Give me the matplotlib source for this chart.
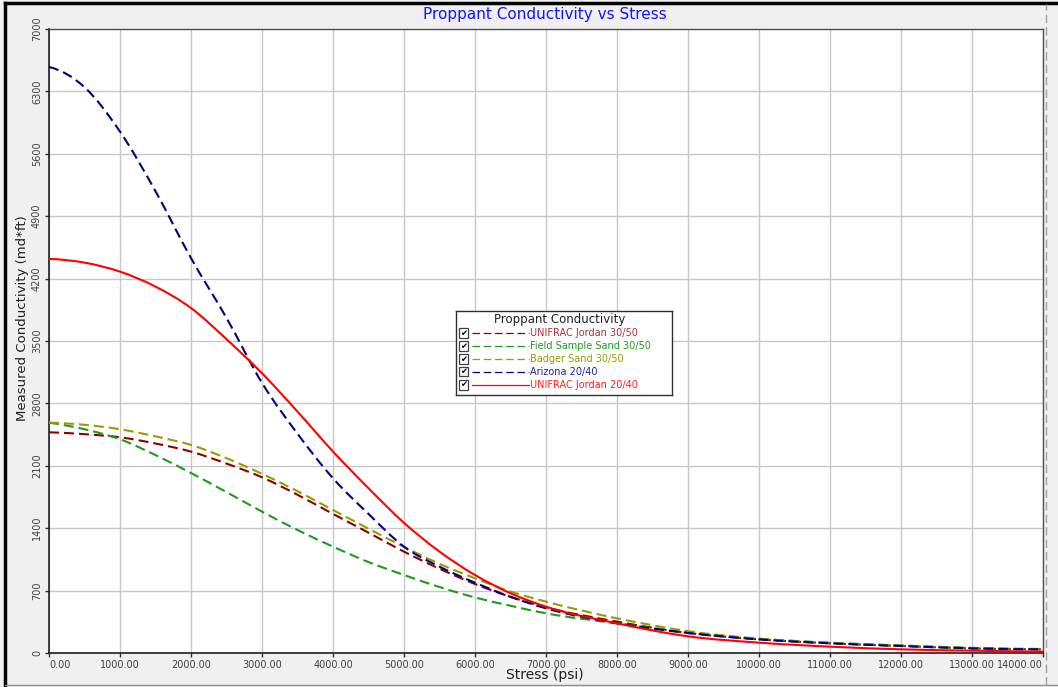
import matplotlib
matplotlib.use("Agg")
import matplotlib.pyplot as plt
import numpy as np
from matplotlib.lines import Line2D
from matplotlib.patches import Rectangle, PathPatch
from matplotlib.path import Path

# ---------------- data ----------------
stress = [0, 500, 1000, 1500, 2000, 2500, 3000, 3500, 4000, 4500, 5000, 5500,
          6000, 6500, 7000, 8000, 9000, 10000, 11000, 12000, 13000, 14000]

unifrac_3050 = [2476, 2455, 2420, 2350, 2259, 2125, 1971, 1775, 1560, 1350, 1137, 945,
                774, 630, 513, 352, 225, 153, 109, 79, 52, 41]
field_3050 = [2584, 2510, 2398, 2220, 2019, 1805, 1586, 1380, 1193, 1020, 875, 740,
              623, 530, 445, 333, 230, 160, 115, 85, 58, 45]
badger_3050 = [2584, 2560, 2510, 2430, 2334, 2185, 2010, 1815, 1604, 1395, 1190, 1000,
               838, 690, 576, 389, 245, 160, 115, 82, 55, 42]
arizona_2040 = [6574, 6347, 5849, 5180, 4430, 3759, 3030, 2460, 1960, 1560, 1193, 968,
                789, 630, 501, 333, 225, 153, 109, 79, 52, 41]
unifrac_2040 = [4421, 4379, 4278, 4110, 3870, 3520, 3138, 2708, 2260, 1848, 1460, 1137,
                875, 670, 520, 333, 187, 116, 71, 41, 26, 15]

series_labels = ["UNIFRAC Jordan 30/50", "Field Sample Sand 30/50", "Badger Sand 30/50",
                 "Arizona 20/40", "UNIFRAC Jordan 20/40"]
series_values = [unifrac_3050, field_3050, badger_3050, arizona_2040, unifrac_2040]

x_ticks = list(range(0, 14001, 1000))
y_ticks = list(range(0, 7001, 700))

title = "Proppant Conductivity vs Stress"
x_label = "Stress (psi)"
y_label = "Measured Conductivity (md*ft)"
legend_title = "Proppant Conductivity"

# ---------------- styles ----------------
colors = ["#8B0000", "#1E9A1E", "#9A9A00", "#000080", "#FF0000"]
text_colors = ["#A83040", "#1E9A1E", "#9A9A00", "#2020A0", "#FF2020"]
dashed = [True, True, True, True, False]


def _end_slope(h0, h1, d0, d1):
    m = ((2 * h0 + h1) * d0 - h0 * d1) / (h0 + h1)
    if np.sign(m) != np.sign(d0):
        m = 0.0
    return m


def smooth_path(xs, ys):
    """Smooth cubic Bezier path through the given points (rendering only)."""
    x = np.asarray(xs, float)
    y = np.asarray(ys, float)
    h = np.diff(x)
    d = np.diff(y) / h
    n = len(x)
    m = np.zeros(n)
    for i in range(1, n - 1):
        m[i] = (h[i] * d[i - 1] + h[i - 1] * d[i]) / (h[i - 1] + h[i])
    m[0] = _end_slope(h[0], h[1], d[0], d[1])
    m[-1] = _end_slope(h[-1], h[-2], d[-1], d[-2])
    verts = [(x[0], y[0])]
    codes = [Path.MOVETO]
    for i in range(n - 1):
        verts += [(x[i] + h[i] / 3, y[i] + m[i] * h[i] / 3),
                  (x[i + 1] - h[i] / 3, y[i + 1] - m[i + 1] * h[i] / 3),
                  (x[i + 1], y[i + 1])]
        codes += [Path.CURVE4] * 3
    return Path(verts, codes)


W, H = 1058, 687
fig = plt.figure(figsize=(W / 100, H / 100), dpi=100)
fig.patch.set_facecolor("#F0F0F0")

L, R, T, B = 49, 1043, 29, 653
ax = fig.add_axes([L / W, 1 - B / H, (R - L) / W, (B - T) / H])
ax.set_facecolor("white")

for vals, c, d in zip(series_values, colors, dashed):
    ls = (0, (4.8, 2.4)) if d else "-"
    patch = PathPatch(smooth_path(stress, vals), fill=False, edgecolor=c, lw=1.5,
                      linestyle=ls, zorder=3, capstyle="butt")
    ax.add_patch(patch)

ax.set_xlim(0, 14000)
ax.set_ylim(0, 7000)
ax.set_xticks(x_ticks)
ax.set_xticklabels([f"{v:.2f}" for v in x_ticks])
ax.set_yticks(y_ticks)
ax.set_yticklabels([str(v) for v in y_ticks])
ax.grid(True, color="#C8C8C8", lw=1.0, zorder=0)
ax.set_axisbelow(True)
ax.tick_params(axis="both", labelsize=7, colors="#303030", length=3, width=1,
               labelcolor="#404040")
ax.tick_params(axis="x", pad=2)
ax.tick_params(axis="y", pad=2)
for lab in ax.get_yticklabels():
    lab.set_rotation(90)
    lab.set_verticalalignment("center")
xl = ax.get_xticklabels()
xl[0].set_horizontalalignment("left")
xl[-1].set_horizontalalignment("right")
for side in ["left", "bottom"]:
    ax.spines[side].set_color("#202020")
    ax.spines[side].set_linewidth(1.2)
for side in ["right", "top"]:
    ax.spines[side].set_color("#505050")
    ax.spines[side].set_linewidth(1.0)

fig.text(545 / W, 1 - 14 / H, title, color="#1515F0", fontsize=11,
         ha="center", va="center")
fig.text(545 / W, 1 - 675 / H, x_label, color="#202020", fontsize=10,
         ha="center", va="center")
fig.text(23 / W, 1 - 318 / H, y_label, color="#202020", fontsize=9.5,
         ha="center", va="center", rotation=90)

# ---------------- legend (custom, checkbox style) ----------------
lx0, ly0, lx1, ly1 = 456, 311, 672, 395
lax = fig.add_axes([lx0 / W, 1 - ly1 / H, (lx1 - lx0) / W, (ly1 - ly0) / H])
lax.set_xlim(lx0, lx1)
lax.set_ylim(ly1, ly0)
lax.set_xticks([])
lax.set_yticks([])
lax.set_facecolor("white")
for s in lax.spines.values():
    s.set_color("#303030")
    s.set_linewidth(1.0)
lax.text(560, 320, legend_title, fontsize=8.5, color="#202020", ha="center", va="center")
rows = [333.3, 346, 359.3, 371.7, 385]
for yy, lab, c, tc, d in zip(rows, series_labels, colors, text_colors, dashed):
    lax.add_patch(Rectangle((458.5, yy - 5), 9.5, 9.5, facecolor="white",
                            edgecolor="#404040", lw=0.9))
    lax.text(463.2, yy, "\u2714", fontsize=6, color="black", ha="center", va="center")
    ln = Line2D([472, 529], [yy, yy], color=c, lw=0.9)
    if d:
        ln.set_dashes((6, 3))
    lax.add_line(ln)
    lax.text(530.5, yy, lab, fontsize=7, color=tc, ha="left", va="center")

# ---------------- outer frame ----------------
fig.add_artist(Line2D([5 / W, 1], [1 - 3 / H, 1 - 3 / H], color="black", lw=2.5,
                      transform=fig.transFigure))
fig.add_artist(Line2D([5 / W, 5 / W], [0, 1 - 3 / H], color="black", lw=2.5,
                      transform=fig.transFigure))
fig.add_artist(Line2D([5 / W, 1], [1 - 685 / H, 1 - 685 / H], color="#909090", lw=1.0,
                      transform=fig.transFigure))
vl = Line2D([1046 / W, 1046 / W], [1 - 685 / H, 1 - 4 / H], color="#A0A0A0", lw=1.0,
            transform=fig.transFigure)
vl.set_dashes((6, 3))
fig.add_artist(vl)

fig.savefig("out.png", dpi=100, facecolor=fig.get_facecolor())
